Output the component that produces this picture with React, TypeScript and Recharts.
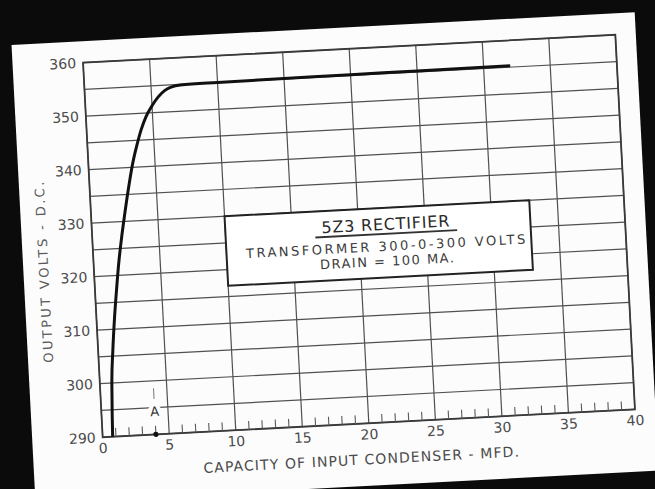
import React from 'react';
import {
  LineChart,
  Line,
  XAxis,
  YAxis,
  CartesianGrid,
  ReferenceArea,
  ReferenceLine,
  ReferenceDot,
} from 'recharts';

// Curve: output volts vs. capacity of input condenser (5Z3 rectifier)
const capacityMfd = [0.75, 0.8, 0.9, 1.1, 1.35, 1.6, 1.9, 2.2, 2.5, 2.9, 3.3, 3.7, 4.1, 4.5, 5.0, 5.5, 6.0, 6.5, 7.2, 10, 15, 20, 25, 32];
const outputVolts = [290, 294, 300, 306, 312, 317, 322.5, 327, 331, 336, 340.5, 344, 347, 349.3, 351.3, 352.9, 354.0, 354.6, 354.9, 355.0, 355.1, 355.15, 355.2, 355.25];

const xTicks = [0, 5, 10, 15, 20, 25, 30, 35, 40];
const yTicks = [290, 295, 300, 305, 310, 315, 320, 325, 330, 335, 340, 345, 350, 355, 360];
const minorTicks = [1, 2, 3, 4, 6, 7, 8, 9, 11, 12, 13, 14, 16, 17, 18, 19, 21, 22, 23, 24, 26, 27, 28, 29, 31, 32, 33, 34, 36, 37, 38, 39];

const boxLines = ['5Z3 RECTIFIER', 'TRANSFORMER 300-0-300 VOLTS', 'DRAIN = 100 MA.'];
const xTitle = 'CAPACITY OF INPUT CONDENSER - MFD.';
const yTitle = 'OUTPUT VOLTS - D.C.';
const markerLabel = 'A';
const markerX = 4;

const data = capacityMfd.map((x, i) => ({ x, y: outputVolts[i] }));

const FONT = '"DejaVu Sans", sans-serif';
const TEXT = '#4a4a4a';
const GRID = '#505050';

const renderBox = (props: any) => {
  const vb = props.viewBox || {};
  const cx = vb.x + vb.width / 2 + 8;
  const top = vb.y;
  return (
    <g>
      <text x={cx} y={top + 22} textAnchor="middle" fontFamily={FONT} fontSize={16} fill="#2a2a2a" letterSpacing={0.8}>
        {boxLines[0]}
      </text>
      <line x1={cx - 71} x2={cx + 71} y1={top + 26} y2={top + 26} stroke="#333" strokeWidth={1.8} />
      <text x={cx} y={top + 43} textAnchor="middle" fontFamily={FONT} fontSize={13} fill="#3c3c3c" letterSpacing={2.5}>
        {boxLines[1]}
      </text>
      <text x={cx} y={top + 58} textAnchor="middle" fontFamily={FONT} fontSize={13} fill="#3c3c3c" letterSpacing={1.5}>
        {boxLines[2]}
      </text>
    </g>
  );
};

const renderXTitle = (props: any) => {
  const vb = props.viewBox || {};
  return (
    <text x={vb.x + vb.width / 2 - 9} y={vb.y + 41} textAnchor="middle" fontFamily={FONT} fontSize={14} fill={TEXT} letterSpacing={1.1}>
      {xTitle}
    </text>
  );
};

const renderYTitle = (props: any) => {
  const vb = props.viewBox || {};
  const x = vb.x + 14.5;
  const y = vb.y + vb.height / 2 + 18.5;
  return (
    <text x={x} y={y} transform={`rotate(-90 ${x} ${y})`} textAnchor="middle" fontFamily={FONT} fontSize={13} fill="#5a5a5a" letterSpacing={2.4}>
      {yTitle}
    </text>
  );
};

export default function App() {
  return (
    <div style={{ position: 'absolute', left: 0, top: 0, width: 655, height: 489, background: '#0b0b0b', overflow: 'hidden' }}>
      <div
        style={{
          position: 'absolute',
          left: 0,
          top: 0,
          width: 655,
          height: 489,
          transform: 'rotate(-3deg)',
          transformOrigin: '359px 236px',
        }}
      >
        <div style={{ position: 'absolute', left: 22, top: 27, width: 624, height: 459, background: '#fcfcfc' }} />
        <div style={{ position: 'absolute', left: 0, top: 0 }}>
          <LineChart width={655} height={489} data={data} margin={{ top: 48.5, right: 29.5, bottom: 25.5, left: 32.5 }}>
            <CartesianGrid stroke={GRID} strokeWidth={1.2} />
            <XAxis
              dataKey="x"
              type="number"
              domain={[0, 40]}
              ticks={xTicks}
              interval={0}
              height={40}
              axisLine={false}
              tickLine={false}
              tickSize={0}
              tickMargin={6}
              tick={{ fill: TEXT, fontSize: 14, fontFamily: FONT }}
              label={renderXTitle}
            />
            <YAxis
              type="number"
              domain={[290, 360]}
              ticks={yTicks}
              interval={0}
              width={60}
              axisLine={false}
              tickLine={false}
              tickSize={0}
              tickMargin={7}
              tick={{ fill: TEXT, fontSize: 14, fontFamily: FONT }}
              tickFormatter={(v: number) => (v % 10 === 0 ? String(v) : '')}
              label={renderYTitle}
            />
            <ReferenceArea x1={0} x2={40} y1={290} y2={360} fill="none" fillOpacity={0} stroke="#3a3a3a" strokeWidth={1.8} />
            {minorTicks.map((t) => (
              <ReferenceLine
                key={t}
                segment={[
                  { x: t, y: 290 },
                  { x: t, y: 291.6 },
                ]}
                stroke="#5a5a5a"
                strokeWidth={1.1}
              />
            ))}
            <ReferenceArea
              x1={10}
              x2={32.9}
              y1={317}
              y2={330}
              fill="#ffffff"
              fillOpacity={1}
              stroke="#222"
              strokeWidth={2}
              label={renderBox}
            />
            <ReferenceDot
              x={markerX}
              y={294.3}
              r={7}
              fill="#fcfcfc"
              stroke="none"
              label={{ value: markerLabel, position: 'center', fill: '#333', fontSize: 13, fontFamily: FONT }}
            />
            <ReferenceLine
              segment={[
                { x: markerX, y: 296.6 },
                { x: markerX, y: 298.6 },
              ]}
              stroke="#777"
              strokeWidth={1}
            />
            <ReferenceDot x={markerX} y={290} r={2.6} fill="#111" stroke="none" />
            <Line type="monotone" dataKey="y" stroke="#111" strokeWidth={3} dot={false} isAnimationActive={false} />
          </LineChart>
        </div>
      </div>
    </div>
  );
}
